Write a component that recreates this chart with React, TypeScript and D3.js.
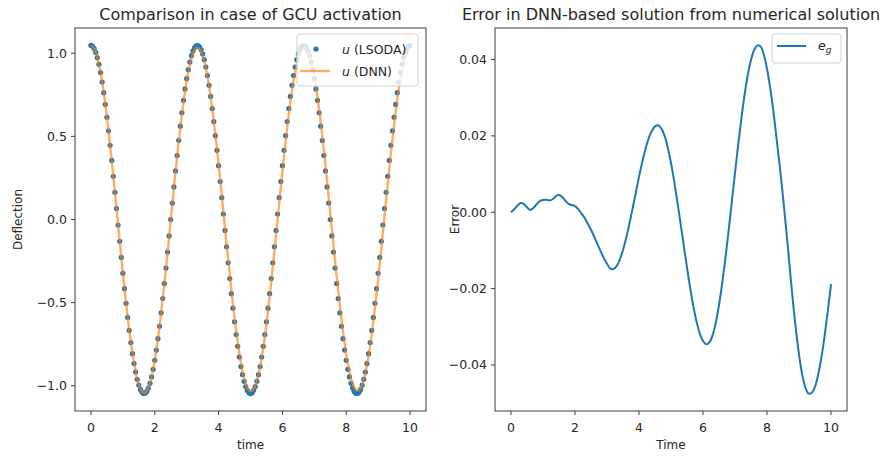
import React from "react";
import * as d3 from "d3";

// LSODA solution u(t), sampled every 0.05 from t = 0 to t = 10
const lsodaU: number[] = [
  1.047, 1.042, 1.028, 1.005, 0.973, 0.933, 0.884, 0.827, 0.763, 0.692,
  0.615, 0.533, 0.446, 0.355, 0.26, 0.164, 0.066, -0.033, -0.131, -0.228,
  -0.324, -0.416, -0.504, -0.589, -0.667, -0.74, -0.807, -0.866, -0.917, -0.961,
  -0.996, -1.022, -1.039, -1.046, -1.045, -1.034, -1.014, -0.985, -0.947, -0.901,
  -0.847, -0.785, -0.717, -0.642, -0.561, -0.475, -0.385, -0.292, -0.196, -0.099,
  0.0, 0.099, 0.196, 0.292, 0.385, 0.475, 0.561, 0.642, 0.717, 0.785,
  0.847, 0.901, 0.947, 0.985, 1.014, 1.034, 1.045, 1.046, 1.039, 1.022,
  0.996, 0.961, 0.917, 0.866, 0.807, 0.74, 0.667, 0.589, 0.504, 0.416,
  0.324, 0.228, 0.131, 0.033, -0.066, -0.164, -0.26, -0.355, -0.446, -0.533,
  -0.615, -0.692, -0.763, -0.827, -0.884, -0.933, -0.973, -1.005, -1.028, -1.042,
  -1.047,
  -1.042, -1.028, -1.005, -0.973, -0.933, -0.884, -0.827, -0.763, -0.692, -0.615,
  -0.533, -0.446, -0.355, -0.26, -0.164, -0.066, 0.033, 0.131, 0.228, 0.324,
  0.416, 0.504, 0.589, 0.667, 0.74, 0.807, 0.866, 0.917, 0.961, 0.996,
  1.022, 1.039, 1.046, 1.045, 1.034, 1.014, 0.985, 0.947, 0.901, 0.847,
  0.785, 0.717, 0.642, 0.561, 0.475, 0.385, 0.292, 0.196, 0.099, 0.0,
  -0.099, -0.196, -0.292, -0.385, -0.475, -0.561, -0.642, -0.717, -0.785, -0.847,
  -0.901, -0.947, -0.985, -1.014, -1.034, -1.045, -1.046, -1.039, -1.022, -0.996,
  -0.961, -0.917, -0.866, -0.807, -0.74, -0.667, -0.589, -0.504, -0.416, -0.324,
  -0.228, -0.131, -0.033, 0.066, 0.164, 0.26, 0.355, 0.446, 0.533, 0.615,
  0.692, 0.763, 0.827, 0.884, 0.933, 0.973, 1.005, 1.028, 1.042, 1.047,
];
const lsodaStep = 0.05;

// DNN prediction u(t), sampled every 0.1 from t = 0 to t = 10
const dnnU: number[] = [
  1.047, 1.029, 0.975, 0.886, 0.765, 0.616, 0.447, 0.261, 0.068, -0.128,
  -0.321, -0.501, -0.664, -0.804, -0.913, -0.992, -1.035, -1.042, -1.012, -0.945,
  -0.845, -0.716, -0.561, -0.387, -0.199, -0.005, 0.19, 0.377, 0.551, 0.705,
  0.834, 0.932, 0.999, 1.031, 1.027, 0.986, 0.91, 0.804, 0.668, 0.509,
  0.333, 0.144, -0.05, -0.241, -0.425, -0.593, -0.74, -0.862, -0.953, -1.011,
  -1.034, -1.02, -0.97, -0.887, -0.772, -0.63, -0.466, -0.285, -0.095, 0.099,
  0.29, 0.469, 0.633, 0.775, 0.888, 0.972, 1.02, 1.033, 1.009, 0.95,
  0.857, 0.735, 0.586, 0.416, 0.232, 0.04, -0.154, -0.341, -0.518, -0.676,
  -0.809, -0.915, -0.988, -1.026, -1.027, -0.992, -0.922, -0.821, -0.69, -0.535,
  -0.361, -0.174, 0.02, 0.213, 0.399, 0.569, 0.721, 0.846, 0.941, 1.002,
  1.028,
];
// Error e_g = u(DNN) - u(LSODA), sampled every 0.1 from t = 0 to t = 10
const errorG: number[] = [
  0.0, 0.0008, 0.0017, 0.0024, 0.0022, 0.0013, 0.0006, 0.0011, 0.0021, 0.0029,
  0.0032, 0.0033, 0.0031, 0.0034, 0.0042, 0.0045, 0.004, 0.003, 0.0022, 0.0019,
  0.0016, 0.0008, -0.0003, -0.0015, -0.003, -0.0046, -0.0064, -0.0083, -0.0102, -0.012,
  -0.0135, -0.0147, -0.0149, -0.0141, -0.0124, -0.0099, -0.0067, -0.003, 0.001, 0.0051,
  0.0093, 0.0131, 0.0165, 0.0193, 0.0213, 0.0225, 0.0228, 0.0219, 0.02, 0.0169,
  0.0129, 0.0081, 0.0027, -0.003, -0.0088, -0.0145, -0.0199, -0.0247, -0.0287, -0.0318,
  -0.0337, -0.0346, -0.0341, -0.0322, -0.0289, -0.0243, -0.0186, -0.0121, -0.0049, 0.0027,
  0.0103, 0.0177, 0.0246, 0.0308, 0.036, 0.0399, 0.0425, 0.0437, 0.0434, 0.0413,
  0.0376, 0.0326, 0.0264, 0.0192, 0.012, 0.004, -0.0045, -0.0135, -0.0225, -0.0305,
  -0.0372, -0.0425, -0.0459, -0.0475, -0.0473, -0.0457, -0.0425, -0.0381, -0.0324, -0.0259,
  -0.0188,
];
const denseStep = 0.1;

const xTicks = [0, 2, 4, 6, 8, 10];
const leftYTicks = [-1.0, -0.5, 0.0, 0.5, 1.0];
const rightYTicks = [-0.04, -0.02, 0.0, 0.02, 0.04];

const BLUE = "#1f77b4";
const ORANGE = "#ff7f0e";
const TEXT = "#262626";
const FONT = "DejaVu Sans, sans-serif";

const W = 889;
const H = 457;

type Pt = [number, number];

function padded(vals: number[], frac = 0.05): [number, number] {
  const [lo, hi] = d3.extent(vals) as [number, number];
  const pad = (hi - lo) * frac;
  return [lo - pad, hi + pad];
}

const minus = (s: string) => s.replace("-", "\u2212");

interface AxesProps {
  x0: number;
  x1: number;
  y0: number;
  y1: number;
  x: d3.ScaleLinear<number, number>;
  y: d3.ScaleLinear<number, number>;
  yTicks: number[];
  yFmt: (v: number) => string;
  title: string;
  xLabel: string;
  yLabel: string;
  yLabelX: number;
  children?: React.ReactNode;
}

function Axes(p: AxesProps) {
  const cx = (p.x0 + p.x1) / 2;
  const cy = (p.y0 + p.y1) / 2;
  return (
    <g fontFamily={FONT} fill={TEXT}>
      <defs>
        <clipPath id={`clip-${p.x0}`}>
          <rect x={p.x0} y={p.y0} width={p.x1 - p.x0} height={p.y1 - p.y0} />
        </clipPath>
      </defs>
      <g clipPath={`url(#clip-${p.x0})`}>{p.children}</g>
      <rect
        x={p.x0}
        y={p.y0}
        width={p.x1 - p.x0}
        height={p.y1 - p.y0}
        fill="none"
        stroke="#3a3a3a"
        strokeWidth={1}
      />
      {xTicks.map((t) => (
        <g key={`xt${t}`}>
          <line x1={p.x(t)} x2={p.x(t)} y1={p.y1} y2={p.y1 + 4} stroke="#3a3a3a" />
          <text x={p.x(t)} y={p.y1 + 21} fontSize={12.5} textAnchor="middle">
            {t}
          </text>
        </g>
      ))}
      {p.yTicks.map((t) => (
        <g key={`yt${t}`}>
          <line x1={p.x0 - 4} x2={p.x0} y1={p.y(t)} y2={p.y(t)} stroke="#3a3a3a" />
          <text x={p.x0 - 8} y={p.y(t) + 4.5} fontSize={12.5} textAnchor="end">
            {minus(p.yFmt(t))}
          </text>
        </g>
      ))}
      <text x={cx} y={20} fontSize={16} textAnchor="middle">
        {p.title}
      </text>
      <text x={cx} y={449} fontSize={12} textAnchor="middle">
        {p.xLabel}
      </text>
      <text
        transform={`translate(${p.yLabelX},${cy}) rotate(-90)`}
        fontSize={12}
        textAnchor="middle"
      >
        {p.yLabel}
      </text>
    </g>
  );
}

export default function App() {
  const lsodaPts: Pt[] = lsodaU.map((v, i) => [i * lsodaStep, v]);
  const dnnPts: Pt[] = dnnU.map((v, i) => [i * denseStep, v]);
  const errPts: Pt[] = errorG.map((v, i) => [i * denseStep, v]);

  // left panel
  const L = { x0: 75, x1: 426, y0: 28, y1: 411 };
  const xL = d3.scaleLinear().domain(padded([0, 10])).range([L.x0, L.x1]);
  const yL = d3.scaleLinear().domain(padded(lsodaU)).range([L.y1, L.y0]);

  // right panel
  const R = { x0: 495, x1: 847, y0: 28, y1: 411 };
  const xR = d3.scaleLinear().domain(padded([0, 10])).range([R.x0, R.x1]);
  const yR = d3.scaleLinear().domain(padded(errorG)).range([R.y1, R.y0]);

  const dnnLine = d3
    .line<Pt>()
    .x((d) => xL(d[0]))
    .y((d) => yL(d[1]))
    .curve(d3.curveCatmullRom.alpha(0.5));
  const errLine = d3
    .line<Pt>()
    .x((d) => xR(d[0]))
    .y((d) => yR(d[1]))
    .curve(d3.curveCatmullRom.alpha(0.5));

  return (
    <svg
      width={W}
      height={H}
      viewBox={`0 0 ${W} ${H}`}
      style={{ position: "absolute", left: 0, top: 0, background: "#fff" }}
    >
      <rect width={W} height={H} fill="#fff" />
      <Axes
        {...L}
        x={xL}
        y={yL}
        yTicks={leftYTicks}
        yFmt={(v) => v.toFixed(1)}
        title="Comparison in case of GCU activation"
        xLabel="time"
        yLabel="Deflection"
        yLabelX={22}
      >
        {lsodaPts.map((d, i) => (
          <circle key={i} cx={xL(d[0])} cy={yL(d[1])} r={2.6} fill={BLUE} />
        ))}
        <path
          d={dnnLine(dnnPts) ?? ""}
          fill="none"
          stroke={ORANGE}
          strokeOpacity={0.65}
          strokeWidth={2.4}
        />
      </Axes>
      <Axes
        {...R}
        x={xR}
        y={yR}
        yTicks={rightYTicks}
        yFmt={(v) => v.toFixed(2)}
        title="Error in DNN-based solution from numerical solution"
        xLabel="Time"
        yLabel="Error"
        yLabelX={459}
      >
        <path d={errLine(errPts) ?? ""} fill="none" stroke={BLUE} strokeWidth={2} />
      </Axes>

      {/* legend: left panel */}
      <g fontFamily={FONT} fill={TEXT} fontSize={12.5}>
        <rect
          x={297}
          y={34}
          width={121}
          height={52}
          rx={3}
          fill="#fff"
          fillOpacity={0.8}
          stroke="#d0d0d0"
        />
        <circle cx={316} cy={49} r={2.6} fill={BLUE} />
        <text x={342} y={53.5}>
          <tspan fontStyle="italic">u</tspan> (LSODA)
        </text>
        <line x1={300} x2={330} y1={71} y2={71} stroke={ORANGE} strokeOpacity={0.65} strokeWidth={2.4} />
        <text x={342} y={75.5}>
          <tspan fontStyle="italic">u</tspan> (DNN)
        </text>
      </g>

      {/* legend: right panel */}
      <g fontFamily={FONT} fill={TEXT} fontSize={12.5}>
        <rect
          x={772}
          y={34}
          width={69}
          height={29}
          rx={3}
          fill="#fff"
          fillOpacity={0.8}
          stroke="#d0d0d0"
        />
        <line x1={777} x2={806} y1={46} y2={46} stroke={BLUE} strokeWidth={2} />
        <text x={818} y={50}>
          <tspan fontStyle="italic">e</tspan>
          <tspan fontStyle="italic" fontSize={9} dy={3}>
            g
          </tspan>
        </text>
      </g>
    </svg>
  );
}
